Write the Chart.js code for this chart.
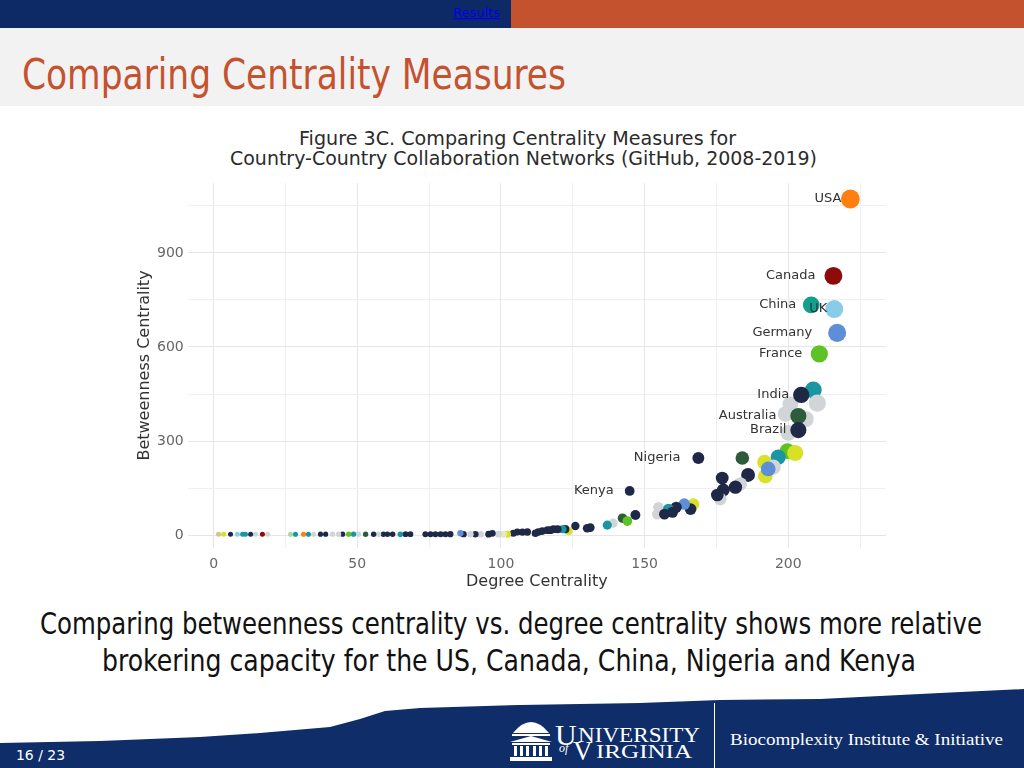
<!DOCTYPE html>
<html>
<head>
<meta charset="utf-8">
<script src="https://cdn.jsdelivr.net/npm/chart.js@4.4.1/dist/chart.umd.min.js"></script>
<style>
    body { margin: 0; width: 1024px; height: 768px; position: relative; overflow: hidden; background: #fff; }
    #slide { position: absolute; left: 0; top: 0; }
    #chartCanvas { position: absolute; left: 120px; top: 170px; }
</style>
</head>
<body>

<svg id="slide" width="1024" height="768" xmlns="http://www.w3.org/2000/svg">
    <!-- header -->
    <rect x="0" y="0" width="511" height="28" fill="#0d2a66"/>
    <rect x="511" y="0" width="513" height="28" fill="#c4522f"/>
    <text x="453" y="17" font-family="Liberation Sans Narrow, DejaVu Sans Condensed" font-size="12" fill="#0000ee"
          text-decoration="underline" textLength="47" lengthAdjust="spacingAndGlyphs">Results</text>
    <rect x="0" y="28" width="1024" height="78" fill="#f2f2f2"/>
    <text x="22" y="89" font-family="DejaVu Sans Condensed" font-size="43" fill="#c4522f"
          textLength="544" lengthAdjust="spacingAndGlyphs">Comparing Centrality Measures</text>

    <!-- chart title (figure heading) -->
    <g font-family="DejaVu Sans" font-size="19" fill="#2b2b2b">
        <text x="299" y="145" textLength="437" lengthAdjust="spacingAndGlyphs">Figure 3C. Comparing Centrality Measures for</text>
        <text x="230" y="165" textLength="587" lengthAdjust="spacingAndGlyphs">Country-Country Collaboration Networks (GitHub, 2008-2019)</text>
    </g>

    <!-- caption -->
    <text x="40" y="634" font-family="DejaVu Sans Condensed" font-size="31" fill="#111"
          textLength="942" lengthAdjust="spacingAndGlyphs">Comparing betweenness centrality vs. degree centrality shows more relative</text>
    <text x="102" y="671" font-family="DejaVu Sans Condensed" font-size="31" fill="#111"
          textLength="814" lengthAdjust="spacingAndGlyphs">brokering capacity for the US, Canada, China, Nigeria and Kenya</text>

    <!-- footer -->
    <polygon fill="#0f2d69" points="0,743 100,741 200,737 260,733 330,727 360,719 385,711 420,708 520,705 640,703 720,700 820,699 880,696 940,693 1024,689 1024,768 0,768"/>
    <text x="16" y="760" font-family="Liberation Sans Narrow, DejaVu Sans Condensed" font-size="14" fill="#fff"
          textLength="49" lengthAdjust="spacingAndGlyphs">16 / 23</text>

    <!-- rotunda -->
    <g fill="#fff">
        <path d="M513,733 Q531,711 549,733 Z"/>
        <rect x="512" y="734" width="38" height="2"/>
        <path d="M510,742 L531,736 L552,742 Z"/>
        <rect x="512" y="743" width="38" height="2"/>
        <rect x="514" y="746" width="3" height="10"/>
        <rect x="520" y="746" width="3" height="10"/>
        <rect x="526" y="746" width="3" height="10"/>
        <rect x="533" y="746" width="3" height="10"/>
        <rect x="539" y="746" width="3" height="10"/>
        <rect x="545" y="746" width="3" height="10"/>
        <rect x="510" y="757" width="42" height="4"/>
    </g>
    <g font-family="Liberation Serif, DejaVu Serif" fill="#fff">
        <text x="555" y="745" font-size="30">U</text>
        <text x="578" y="742" font-size="21" textLength="122" lengthAdjust="spacingAndGlyphs">NIVERSITY</text>
        <text x="559" y="752" font-size="12" font-style="italic">of</text>
        <text x="573" y="760" font-size="27">V</text>
        <text x="596" y="758" font-size="19" textLength="96" lengthAdjust="spacingAndGlyphs">IRGINIA</text>
        <text x="730" y="745" font-size="16" textLength="273" lengthAdjust="spacingAndGlyphs">Biocomplexity Institute &amp; Initiative</text>
    </g>
    <rect x="714" y="703" width="1" height="65" fill="#fff"/>
</svg>

<canvas id="chartCanvas" width="800" height="430"></canvas>

<script>
// labelled countries
const labeledCountries = ['USA', 'Canada', 'China', 'UK', 'Germany', 'France', 'India', 'Australia', 'Brazil', 'Nigeria', 'Kenya'];
const labeledDegree = [221.6, 215.7, 208.0, 216.0, 217.0, 210.8, 204.5, 203.5, 203.5, 168.7, 144.8];
const labeledBetweenness = [1072, 827, 734, 721, 645, 578, 447, 380, 335, 246, 141];
const labeledGroup = ['orange', 'red', 'seagreen', 'lightblue', 'blue', 'green', 'navy', 'darkgreen', 'navy', 'navy', 'navy'];

// all the other countries
const otherDegree = [
    208.7, 210.1, 200.7, 199.0, 206.0, 200.0, 199.7, 202.4, 196.5, 184.0,
    191.7, 192.0, 194.8, 193.0, 186.0, 177.0, 183.3, 181.6, 177.4, 176.3,
    175.3, 167.0, 166.0, 163.8, 161.0, 154.8, 154.4, 158.3, 159.7, 156.9,
    146.8, 142.3, 144.0, 139.0, 137.0, 131.1, 130.0, 125.9, 123.5, 122.4,
    121.4, 119.7, 118.3, 117.2, 116.2, 114.4, 113.0, 112.0, 109.2, 107.5,
    105.7, 104.3, 102.3, 100.9, 99.1, 97.0, 95.7, 92.9, 91.1, 89.4,
    87.0, 85.9, 82.4, 80.7, 79.0, 77.2, 75.5, 73.7, 68.5, 66.8,
    65.0, 62.3, 60.5, 59.1, 57.4, 55.7, 52.9, 50.4, 48.7, 47.0,
    44.9, 43.5, 41.4, 39.0, 37.2, 34.8, 33.0, 31.3, 28.5, 26.8,
    18.8, 17.0, 14.6, 12.9, 11.1, 10.1, 8.3, 5.9, 3.5, 1.7
];
const otherBetweenness = [
    463, 421, 418, 386, 370, 326, 268, 262, 249, 246,
    233, 188, 217, 211, 192, 182, 163, 153, 144, 115,
    128, 99, 83, 99, 89, 89, 67, 83, 73, 67,
    64, 54, 45, 38, 32, 24, 22, 29, 13, 19,
    19, 19, 19, 16, 16, 13, 10, 6, 10, 10,
    10, 6, 3, 3, 3, 6, 3, 3, 3, 3,
    3, 6, 3, 3, 3, 3, 3, 3, 3, 3,
    3, 3, 3, 3, 3, 3, 3, 3, 3, 3,
    3, 3, 3, 3, 3, 3, 3, 3, 3, 3,
    3, 3, 3, 3, 3, 3, 3, 3, 3, 3
];
const otherGroup = [
    'teal', 'gray', 'gray', 'gray', 'gray', 'gray', 'green', 'yellow', 'teal', 'darkgreen',
    'yellow', 'yellow', 'gray', 'blue', 'navy', 'navy', 'gray', 'navy', 'navy', 'gray',
    'navy', 'yellow', 'navy', 'blue', 'navy', 'gray', 'gray', 'teal', 'navy', 'navy',
    'navy', 'darkgreen', 'green', 'gray', 'teal', 'navy', 'navy', 'navy', 'yellow', 'navy',
    'teal', 'navy', 'navy', 'navy', 'navy', 'navy', 'navy', 'navy', 'navy', 'navy',
    'navy', 'navy', 'yellow', 'pale', 'gray', 'navy', 'navy', 'gray', 'navy', 'gray',
    'navy', 'blue', 'navy', 'navy', 'navy', 'navy', 'navy', 'navy', 'navy', 'navy',
    'teal', 'navy', 'navy', 'navy', 'gray', 'navy', 'darkgreen', 'gray', 'teal', 'green',
    'navy', 'gray', 'gray', 'navy', 'navy', 'gray', 'teal', 'orange', 'teal', 'mint',
    'gray', 'red', 'gray', 'navy', 'teal', 'teal', 'lightblue', 'navy', 'yellow', 'tan'
];

const xTickLabels = [0, 50, 100, 150, 200];
const yTickLabels = [0, 300, 600, 900];

// styling
const palette = {
    navy: '#1f2846', gray: '#d2d5d7', teal: '#1a95a2', seagreen: '#12a08c',
    yellow: '#d8e125', green: '#5dc226', darkgreen: '#2e5c3b', lightblue: '#87cdea',
    blue: '#5c8fd6', red: '#8e0b0b', orange: '#ff800e', tan: '#d9c28e',
    mint: '#a8d6b0', pale: '#e3e8c5'
};
const labelGap = { USA: 9, Canada: 18, China: 15, UK: 7, Germany: 25, France: 17, India: 12, Australia: 22, Brazil: 12, Nigeria: 18, Kenya: 16 };

function toPoints(xs, ys) {
    return xs.map((x, i) => ({ x: x, y: ys[i] }));
}

function markerSize(ctx) {
    return 2.5 + 7 * Math.pow(ctx.raw.x / 223, 2.5);
}

const countryLabels = {
    id: 'countryLabels',
    afterDatasetsDraw(chart) {
        const meta = chart.getDatasetMeta(0);
        const c = chart.ctx;
        c.save();
        c.font = '13px "DejaVu Sans"';
        c.fillStyle = '#333';
        c.textAlign = 'right';
        c.textBaseline = 'middle';
        labeledCountries.forEach((name, i) => {
            const pt = meta.data[i];
            c.fillText(name, pt.x - labelGap[name], pt.y);
        });
        c.restore();
    }
};

function gridColor(major, step) {
    return ctx => {
        const v = ctx.tick.value;
        if (major.includes(v)) return '#e6e6e6';
        return v % step === 0 ? '#efefef' : 'rgba(0,0,0,0)';
    };
}

new Chart(document.getElementById('chartCanvas'), {
    type: 'scatter',
    data: {
        datasets: [{
            data: toPoints(labeledDegree, labeledBetweenness),
            backgroundColor: ctx => palette[labeledGroup[ctx.dataIndex]],
            borderWidth: 0,
            pointRadius: markerSize
        }, {
            data: toPoints(otherDegree, otherBetweenness),
            backgroundColor: ctx => palette[otherGroup[ctx.dataIndex]],
            borderWidth: 0,
            pointRadius: markerSize
        }]
    },
    options: {
        responsive: false,
        animation: false,
        devicePixelRatio: 1,
        layout: { padding: { top: 13, left: 17, right: 34, bottom: 9 } },
        plugins: {
            legend: { display: false },
            tooltip: { enabled: false },
            title: { display: false }
        },
        scales: {
            x: {
                min: -9,
                max: 234,
                border: { display: false },
                grid: { color: gridColor(xTickLabels, 25), drawTicks: false },
                ticks: {
                    stepSize: 25,
                    includeBounds: false,
                    autoSkip: false,
                    maxRotation: 0,
                    padding: 8,
                    color: '#666',
                    font: { family: 'DejaVu Sans', size: 14 },
                    callback: v => xTickLabels.includes(v) ? v : ''
                },
                title: {
                    display: true,
                    text: 'Degree Centrality',
                    color: '#333',
                    font: { family: 'DejaVu Sans', size: 16 },
                    padding: { top: -9, bottom: 0 }
                }
            },
            y: {
                min: -41,
                max: 1123,
                border: { display: false },
                grid: { color: gridColor(yTickLabels, 150), drawTicks: false },
                ticks: {
                    stepSize: 150,
                    includeBounds: false,
                    autoSkip: false,
                    padding: 4,
                    color: '#666',
                    font: { family: 'DejaVu Sans', size: 14 },
                    callback: v => yTickLabels.includes(v) ? v : ''
                },
                title: {
                    display: true,
                    text: 'Betweenness Centrality',
                    color: '#333',
                    font: { family: 'DejaVu Sans', size: 16, lineHeight: 1 },
                    padding: 0
                }
            }
        }
    },
    plugins: [countryLabels]
});
</script>
</body>
</html>
